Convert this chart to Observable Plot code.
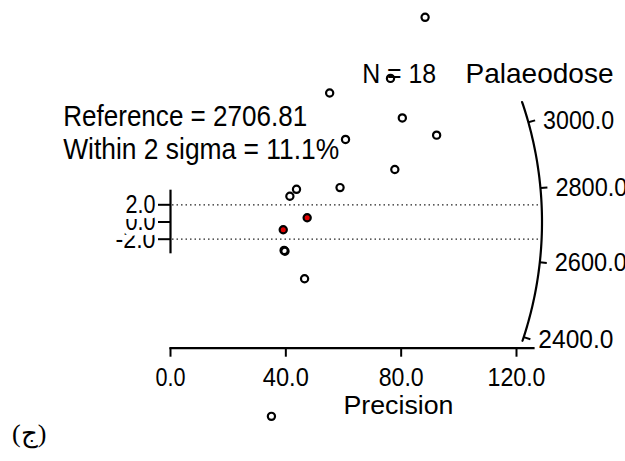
<!DOCTYPE html>
<html><head><meta charset="utf-8">
<script src="https://cdn.jsdelivr.net/npm/d3@7"></script>
<script src="https://cdn.jsdelivr.net/npm/@observablehq/plot@0.6"></script>
<style>
body{margin:0;background:#fff;}
#wrap{position:relative;width:625px;height:461px;overflow:hidden;}
#wrap svg{position:absolute;left:0;top:0;}
#cap{position:absolute;left:12px;top:418px;font:26px "Liberation Serif","DejaVu Serif",serif;}
</style></head><body>
<div id="wrap"><div id="cap">(ج)</div></div>
<script>
// ---- data ----
const reference = 2706.81;
const nTotal = 18;
const withinPct = 11.1;
const precision = [88.3, 55.2, 76.3, 80.4, 92.3, 60.7, 77.8, 58.8, 43.7, 41.4, 47.4, 39.1, 39.4, 39.7, 46.5, 35.0];
const zScore    = [23.8, 15.0, 16.7, 12.1, 10.1, 9.6, 6.1, 4.0, 3.8, 3.0, 0.5, -0.9, -3.3, -3.4, -6.6, -22.6];
const precisionTicks = [0, 40, 80, 120];
const zTicks = [-2, 0, 2];
const sigmaBand = [-2, 2];
const zAxisSpan = [-3.7, 3.7];
const palaeodoseTicks = [2400, 2600, 2800, 3000];
const arcExtent = [2390, 3070];

// ---- layout / style ----
const W = 625, H = 461;
const xRange = [170, 516], yRange = [238.7, 204.3];
const kx = (xRange[1] - xRange[0]) / 120;
const kz = (yRange[0] - yRange[1]) / 4;
const R = 371.5, tickLen = 7, radialGain = 2.71;
const font = '"Liberation Sans",Arial,sans-serif';
// condensed text widths (px), matching the reference's narrow typeface
const textWidths = {
  "Reference = 2706.81": 244, "Within 2 sigma = 11.1%": 276, "N = 18": 74, "Palaeodose": 148,
  "3000.0": 71, "2800.0": 72, "2600.0": 72, "2400.0": 75,
  "0.0": 30, "40.0": 46, "80.0": 45, "120.0": 58, "Precision": 110,
  "2.0": 30, "-2.0": 40
};

function arcPoint(v, r) {
  const phi = Math.atan(radialGain * Math.log(v / reference));
  return {x: r * Math.cos(phi) / kx, z: r * Math.sin(phi) / kz};
}
const arcN = 80;
const arc = d3.range(arcN + 1).map(i => arcExtent[0] * Math.pow(arcExtent[1] / arcExtent[0], i / arcN)).map(v => arcPoint(v, R));

const points = precision.map((p, i) => ({x: p, z: zScore[i], inside: Math.abs(zScore[i]) <= 2}));

const plot = Plot.plot({
  width: W, height: H,
  marginLeft: 170, marginRight: 92, marginTop: 0, marginBottom: 113.3,
  style: {fontFamily: font, color: "black", background: "transparent", overflow: "visible"},
  x: {domain: [0, 120], range: xRange},
  y: {domain: [-2, 2], range: yRange},
  marks: [
    Plot.ruleY(sigmaBand, {y: d => d, x1: 0.7, x2: d => Math.sqrt(R * R - (d * kz) ** 2) / kx, stroke: "#222", strokeWidth: 1.2, strokeDasharray: "1.5,3"}),
    Plot.text(zTicks, {x: 0, y: d => d, text: d => d.toFixed(1), textAnchor: "end", lineAnchor: "middle", dx: -15, fontSize: 26, fill: "black", stroke: "white", strokeWidth: 12, strokeLinejoin: "round", paintOrder: "stroke"}),
    Plot.axisY(zTicks, {anchor: "left", tickSize: 12, fill: "none", strokeWidth: 2, label: null}),
    Plot.ruleX([0], {y1: zAxisSpan[0], y2: zAxisSpan[1], strokeWidth: 2.2}),
    Plot.frame({anchor: "bottom", strokeWidth: 2.2}),
    Plot.axisX(precisionTicks, {tickSize: 9, fill: "none", strokeWidth: 2, label: null}),
    Plot.text(precisionTicks, {x: d => d, frameAnchor: "bottom", dy: 37.3, lineAnchor: "bottom", text: d => d.toFixed(1), fontSize: 26}),
    Plot.text(["Precision"], {frameAnchor: "bottom-left", dx: 228, dy: 65.3, lineAnchor: "bottom", textAnchor: "middle", fontSize: 25}),
    Plot.line(arc, {x: "x", y: "z", strokeWidth: 2.2, curve: "linear"}),
    Plot.link(palaeodoseTicks, {x1: v => arcPoint(v, R).x, y1: v => arcPoint(v, R).z, x2: v => arcPoint(v, R + tickLen).x, y2: v => arcPoint(v, R + tickLen).z, strokeWidth: 2}),
    Plot.text(palaeodoseTicks, {x: v => arcPoint(v, R + tickLen).x, y: v => arcPoint(v, R + tickLen).z, text: v => v.toFixed(1), textAnchor: "start", lineAnchor: "middle", dx: 8, fontSize: 26}),
    Plot.text([`Reference = ${reference.toFixed(2)}`], {frameAnchor: "top-left", dx: -107.3, dy: 125, lineAnchor: "bottom", textAnchor: "start", fontSize: 30}),
    Plot.text([`Within 2 sigma = ${withinPct.toFixed(1)}%`], {frameAnchor: "top-left", dx: -107.3, dy: 158, lineAnchor: "bottom", textAnchor: "start", fontSize: 30}),
    Plot.text([`N = ${nTotal}`], {frameAnchor: "top-left", dx: 191.7, dy: 82, lineAnchor: "bottom", textAnchor: "start", fontSize: 28}),
    Plot.text(["Palaeodose"], {frameAnchor: "top-left", dx: 295, dy: 82, lineAnchor: "bottom", textAnchor: "start", fontSize: 28}),
    Plot.dot(points, {x: "x", y: "z", r: 3.6, stroke: "black", strokeWidth: 2.2, fill: d => d.inside ? "#e00000" : "none"})
  ]
});
d3.select(plot).selectAll("text").each(function () {
  const w = textWidths[this.textContent];
  if (w) { this.setAttribute("textLength", w); this.setAttribute("lengthAdjust", "spacingAndGlyphs"); }
});
document.getElementById("wrap").prepend(plot);
</script>
</body></html>
